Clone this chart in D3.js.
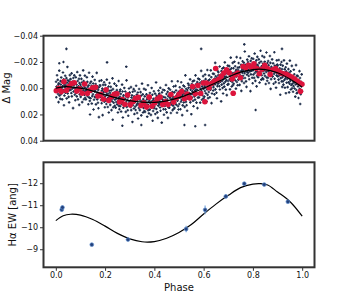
<!DOCTYPE html>
<html><head><meta charset="utf-8">
<script src="https://cdn.jsdelivr.net/npm/d3@7"></script>
<style>body{margin:0;background:#fff}svg{display:block}text{font-family:"DejaVu Sans",sans-serif}</style>
</head><body><svg id="c" width="350" height="300"></svg>
<script>
// Top panel photometry, one row per 0.02 of phase: [phase*1000, deltaMag*10000]
const photPoints = [
[0,8],[1,-49],[2,69],[3,-12],[4,26],[5,-99],[6,0],[8,-64],[9,44],[10,-26],[11,106],[12,-37],[13,14],[14,-134],[15,56],[17,-7],[18,81],[19,-54],[14,-190],
[20,-28],[21,45],[22,-82],[24,-3],[25,-50],[26,85],[27,-15],[28,28],[29,-120],[30,14],[32,-68],[33,130],[34,-24],[35,56],[36,-38],[37,-8],[38,-95],[39,34],[31,-200],
[40,23],[41,-22],[43,-77],[44,78],[45,-42],[46,3],[47,-162],[48,40],[49,-60],[51,-12],[52,66],[53,-32],[54,108],[55,-50],[56,15],[57,-100],[58,-3],[59,-68],[43,-300],
[60,-70],[61,12],[62,-10],[63,37],[64,-113],[65,62],[66,-34],[68,2],[69,-50],[70,152],[71,-78],[72,25],[73,-23],[74,-3],[75,-98],[77,50],[78,-43],[79,92],
[80,5],[81,-83],[82,37],[84,-28],[85,62],[86,-9],[87,-123],[88,25],[89,-55],[90,85],[92,-15],[93,13],[94,-71],[95,127],[96,-39],[97,47],[98,-98],[99,19],
[100,-26],[101,66],[103,-11],[104,-71],[105,29],[106,-44],[107,106],[108,0],[109,40],[111,-136],[112,18],[113,-54],[114,84],[115,-18],[116,50],[117,-4],[118,-96],[119,74],
[120,24],[121,-33],[122,85],[124,4],[125,42],[126,-83],[127,16],[128,-48],[129,60],[130,-10],[132,122],[133,-21],[134,30],[135,-118],[136,72],[137,9],[138,97],[139,-38],[139,200],
[140,4],[141,77],[143,-50],[144,29],[145,-18],[146,117],[147,17],[148,60],[149,-88],[151,46],[152,-36],[153,162],[154,8],[155,88],[156,-6],[157,24],[158,-63],[159,66],
[160,68],[161,23],[162,-32],[163,123],[164,3],[165,48],[166,-117],[168,85],[169,-15],[170,33],[171,111],[172,13],[173,153],[174,-5],[175,60],[177,-55],[178,42],[179,-23],[175,220],
[180,-17],[181,65],[182,43],[184,90],[185,-60],[186,115],[187,19],[188,55],[189,3],[190,205],[192,-25],[193,78],[194,30],[195,50],[196,-45],[197,103],[198,10],[199,145],
[200,63],[201,-25],[203,95],[204,30],[205,120],[206,49],[207,-65],[208,83],[209,3],[211,143],[212,43],[213,71],[214,-13],[215,185],[216,19],[217,105],[218,-40],[219,77],[208,-197],
[220,35],[221,127],[222,50],[223,-10],[224,90],[225,17],[226,167],[228,61],[229,101],[230,-75],[231,79],[232,7],[233,145],[234,43],[235,111],[237,57],[238,-35],[239,135],[231,240],
[240,87],[241,30],[243,148],[244,67],[245,105],[246,-20],[247,79],[248,15],[249,123],[251,53],[252,185],[253,42],[254,93],[255,-55],[256,135],[257,72],[258,160],[259,25],
[260,65],[261,138],[262,11],[263,90],[264,43],[265,178],[266,78],[268,121],[269,-27],[270,107],[271,25],[272,223],[273,69],[274,149],[275,55],[277,85],[278,-2],[279,127],[270,286],
[280,125],[281,80],[282,25],[284,180],[285,60],[286,105],[287,-60],[288,142],[289,42],[290,90],[292,168],[293,70],[294,210],[295,52],[296,117],[297,2],[298,99],[299,34],[286,-164],
[300,35],[301,117],[303,95],[304,142],[305,-8],[306,167],[307,71],[308,107],[309,55],[311,257],[312,27],[313,130],[314,82],[315,102],[316,7],[317,155],[318,62],[319,197],
[320,109],[321,21],[322,141],[323,76],[324,166],[325,95],[326,-19],[328,129],[329,49],[330,189],[331,89],[332,117],[333,33],[334,231],[335,65],[337,151],[338,6],[339,123],
[340,75],[341,167],[342,90],[344,30],[345,130],[346,57],[347,207],[348,101],[349,141],[350,-35],[352,119],[353,47],[354,185],[355,83],[356,151],[357,97],[358,5],[359,175],[347,280],
[360,119],[361,62],[362,180],[363,99],[364,137],[365,12],[366,111],[368,47],[369,155],[370,85],[371,217],[372,74],[373,125],[374,-23],[375,167],[377,104],[378,192],[379,57],
[380,90],[381,163],[382,36],[384,115],[385,68],[386,203],[387,103],[388,146],[389,-2],[390,132],[392,50],[393,248],[394,94],[395,174],[396,80],[397,110],[398,23],[399,152],
[400,141],[401,96],[403,41],[404,196],[405,76],[406,121],[407,-44],[408,158],[409,58],[411,106],[412,184],[413,86],[414,226],[415,68],[416,133],[417,18],[418,115],[419,50],
[420,40],[421,122],[422,100],[423,147],[424,-3],[425,172],[426,76],[428,112],[429,60],[430,262],[431,32],[432,135],[433,87],[434,107],[435,12],[437,160],[438,67],[439,202],
[440,104],[441,16],[442,136],[444,71],[445,161],[446,90],[447,-24],[448,124],[449,44],[450,184],[452,84],[453,112],[454,28],[455,226],[456,60],[457,146],[458,1],[459,118],
[460,57],[461,149],[463,72],[464,12],[465,112],[466,39],[467,189],[468,83],[469,123],[471,-53],[472,101],[473,29],[474,167],[475,65],[476,133],[477,79],[478,-13],[479,157],
[480,89],[481,32],[482,150],[484,69],[485,107],[486,-18],[487,81],[488,17],[489,125],[490,55],[492,187],[493,44],[494,95],[495,-53],[496,137],[497,74],[498,162],[499,27],
[500,47],[501,120],[503,-7],[504,72],[505,25],[506,160],[507,60],[508,103],[509,-45],[511,89],[512,7],[513,205],[514,51],[515,131],[516,37],[517,67],[518,-20],[519,109],
[520,87],[521,42],[522,-13],[523,142],[524,22],[525,67],[526,-98],[528,104],[529,4],[530,52],[531,130],[532,32],[533,172],[534,14],[535,79],[537,-36],[538,61],[539,-4],[522,280],
[540,-24],[541,58],[542,36],[544,83],[545,-67],[546,108],[547,12],[548,48],[549,-4],[550,198],[552,-32],[553,71],[554,23],[555,43],[556,-52],[557,96],[558,3],[559,138],
[560,30],[561,-58],[563,62],[564,-3],[565,87],[566,16],[567,-98],[568,50],[569,-30],[571,110],[572,10],[573,38],[574,-46],[575,152],[576,-14],[577,72],[578,-73],[579,44],[566,290],
[580,-22],[581,70],[582,-7],[583,-67],[584,33],[585,-40],[586,110],[588,4],[589,44],[590,-132],[591,22],[592,-50],[593,88],[594,-14],[595,54],[597,0],[598,-92],[599,78],[590,-300],
[600,3],[601,-54],[603,64],[604,-17],[605,21],[606,-104],[607,-5],[608,-69],[609,39],[611,-31],[612,101],[613,-42],[614,9],[615,-139],[616,51],[617,-12],[618,76],[619,-59],[606,280],
[620,-44],[621,29],[622,-98],[623,-19],[624,-66],[625,69],[626,-31],[628,12],[629,-136],[630,-2],[631,-84],[632,114],[633,-40],[634,40],[635,-54],[637,-24],[638,-111],[639,18],
[640,-8],[641,-53],[642,-108],[644,47],[645,-73],[646,-28],[647,-193],[648,9],[649,-91],[650,-43],[652,35],[653,-63],[654,77],[655,-81],[656,-16],[657,-131],[658,-34],[659,-99],
[660,-122],[661,-40],[663,-62],[664,-15],[665,-165],[666,10],[667,-86],[668,-50],[669,-102],[671,100],[672,-130],[673,-27],[674,-75],[675,-55],[676,-150],[677,-2],[678,-95],[679,40],
[680,-69],[681,-157],[682,-37],[683,-102],[684,-12],[685,-83],[686,-197],[688,-49],[689,-129],[690,11],[691,-89],[692,-61],[693,-145],[694,53],[695,-113],[697,-27],[698,-172],[699,-55],
[700,-123],[701,-31],[702,-108],[704,-168],[705,-68],[706,-141],[707,9],[708,-97],[709,-57],[710,-233],[712,-79],[713,-151],[714,-13],[715,-115],[716,-47],[717,-101],[718,-193],[719,-23],
[720,-95],[721,-152],[722,-34],[723,-115],[724,-77],[725,-202],[726,-103],[728,-167],[729,-59],[730,-129],[731,3],[732,-140],[733,-89],[734,-237],[735,-47],[737,-110],[738,-22],[739,-157],
[740,-138],[741,-65],[742,-192],[744,-113],[745,-160],[746,-25],[747,-125],[748,-82],[749,-230],[750,-96],[752,-178],[753,20],[754,-134],[755,-54],[756,-148],[757,-118],[758,-205],[759,-76],
[760,-95],[761,-140],[763,-195],[764,-40],[765,-160],[766,-115],[767,-280],[768,-78],[769,-178],[771,-130],[772,-52],[773,-150],[774,-10],[775,-168],[776,-103],[777,-218],[778,-121],[779,-186],[765,-334],
[780,-200],[781,-118],[782,-140],[783,-93],[784,-243],[785,-68],[786,-164],[788,-128],[789,-180],[790,22],[791,-208],[792,-105],[793,-153],[794,-133],[795,-228],[797,-80],[798,-173],[799,-38],
[800,-136],[801,-224],[802,-104],[804,-169],[805,-79],[806,-150],[807,-264],[808,-116],[809,-196],[810,-56],[812,-156],[813,-128],[814,-212],[815,-14],[816,-180],[817,-94],[818,-239],[819,-122],[811,166],
[820,-175],[821,-83],[823,-160],[824,-220],[825,-120],[826,-193],[827,-43],[828,-149],[829,-109],[831,-285],[832,-131],[833,-203],[834,-65],[835,-167],[836,-99],[837,-153],[838,-245],[839,-75],
[840,-130],[841,-187],[842,-69],[844,-150],[845,-112],[846,-237],[847,-138],[848,-202],[849,-94],[850,-164],[852,-32],[853,-175],[854,-124],[855,-272],[856,-82],[857,-145],[858,-57],[859,-192],
[860,-153],[861,-80],[862,-207],[863,-128],[864,-175],[865,-40],[866,-140],[868,-97],[869,-245],[870,-111],[871,-193],[872,5],[873,-149],[874,-69],[875,-163],[877,-133],[878,-220],[879,-91],
[880,-89],[881,-134],[882,-189],[884,-34],[885,-154],[886,-109],[887,-274],[888,-72],[889,-172],[890,-124],[892,-46],[893,-144],[894,-4],[895,-162],[896,-97],[897,-212],[898,-115],[899,-180],
[900,-172],[901,-90],[903,-112],[904,-65],[905,-215],[906,-40],[907,-136],[908,-100],[909,-152],[911,50],[912,-180],[913,-77],[914,-125],[915,-105],[916,-200],[917,-52],[918,-145],[919,-10],[918,-300],
[920,-84],[921,-172],[922,-52],[923,-117],[924,-27],[925,-98],[926,-212],[928,-64],[929,-144],[930,-4],[931,-104],[932,-76],[933,-160],[934,38],[935,-128],[937,-42],[938,-187],[939,-70],
[940,-100],[941,-8],[942,-85],[944,-145],[945,-45],[946,-118],[947,32],[948,-74],[949,-34],[950,-210],[952,-56],[953,-128],[954,10],[955,-92],[956,-24],[957,-78],[958,-170],[959,0],
[960,-34],[961,-91],[963,27],[964,-54],[965,-16],[966,-141],[967,-42],[968,-106],[969,2],[971,-68],[972,64],[973,-79],[974,-28],[975,-176],[976,14],[977,-49],[978,39],[979,-96],
[980,-38],[981,35],[982,-92],[983,-13],[984,-60],[985,75],[986,-25],[988,18],[989,-130],[990,4],[991,-78],[992,120],[993,-34],[994,46],[995,-48],[997,-18],[998,-105],[999,24]
];
// Binned photometry: [phase*1000, deltaMag*10000]
const binnedPoints = [
[2,20],[12,0],[22,26],[33,-50],[43,18],[54,-12],[64,-35],[75,-42],[85,21],[96,4],[107,38],[117,-32],[128,40],[139,16],[150,-4],[161,-7],
[171,59],[182,46],[193,82],[204,12],[215,93],[226,65],[237,47],[248,42],[259,105],[269,87],[280,122],[291,52],[302,127],[313,103],[324,77],[335,70],
[346,131],[357,111],[368,142],[379,68],[390,138],[401,113],[412,83],[423,68],[434,124],[445,103],[456,125],[467,48],[478,106],[489,75],[500,47],[511,25],
[522,80],[533,45],[544,75],[555,-13],[566,43],[577,-20],[588,40],[599,-40],[605,103],[611,-40],[622,-3],[633,-37],[644,-55],[649,-150],[660,-65],[671,-90],
[682,-115],[693,-140],[704,-118],[716,-70],[720,39],[727,-100],[738,-115],[749,-80],[760,-165],[771,-155],[782,-175],[793,-160],[804,-185],[815,-150],[826,-110],[837,-145],
[848,-175],[859,-150],[870,-105],[881,-140],[892,-150],[903,-130],[914,-115],[925,-110],[936,-105],[947,-95],[958,-85],[969,-70],[980,-55],[990,-40],[993,24],[999,-30]
];
// Top model curve
const magModelPhase = [0,0.04,0.10,0.15,0.20,0.25,0.30,0.35,0.40,0.45,0.50,0.55,0.60,0.65,0.70,0.75,0.80,0.85,0.90,0.95,1.00];
const magModel = [0,-0.0012,0,0.0022,0.0050,0.0075,0.0094,0.0106,0.0108,0.0097,0.0072,0.0038,0.0000,-0.0042,-0.0085,-0.0122,-0.0142,-0.0142,-0.0118,-0.0070,-0.0008];
// Bottom panel
const ewPhase = [0.024,0.027,0.146,0.293,0.529,0.606,0.690,0.765,0.846,0.942];
const ewValue = [-10.80,-10.90,-9.21,-9.44,-9.92,-10.79,-11.40,-11.98,-11.94,-11.16];
const ewError = [0.10,0.08,0.05,0.05,0.15,0.20,0.10,0.06,0.05,0.08];
const ewModelPhase = [0,0.03,0.06,0.10,0.15,0.20,0.25,0.30,0.35,0.40,0.45,0.50,0.55,0.60,0.65,0.70,0.75,0.80,0.83,0.86,0.90,0.95,1.00];
const ewModel = [-10.30,-10.52,-10.59,-10.55,-10.35,-10.05,-9.72,-9.47,-9.34,-9.35,-9.50,-9.76,-10.12,-10.60,-11.05,-11.45,-11.80,-11.96,-11.98,-11.92,-11.60,-11.17,-10.50];
const magTicks = [-0.04,-0.02,0,0.02,0.04];
const ewTicks = [-12,-11,-10,-9];
const phaseTicks = [0,0.2,0.4,0.6,0.8,1.0];

const svg = d3.select("#c");
const L = 43.5, R = 314.5;
const x = d3.scaleLinear().domain([-0.05,1.05]).range([L,R]);
const yTop = d3.scaleLinear().domain([-0.04,0.04]).range([35.7,140.7]);
const yBot = d3.scaleLinear().domain([-12.95,-8.18]).range([162.3,267.3]);
const minus = s => s.replace(/-/g,"\u2212");
const frameCol = "#333";

function clip(id, y0, y1){
  svg.append("clipPath").attr("id",id).append("rect").attr("x",L).attr("y",y0).attr("width",R-L).attr("height",y1-y0);
}
clip("ct",35.7,140.7); clip("cb",162.3,267.3);

// top panel marks
const gt = svg.append("g").attr("clip-path","url(#ct)");
gt.selectAll("path.d").data(photPoints).join("path")
  .attr("d", d => { const px = x(d[0]/1000), py = yTop(d[1]/10000); return `M${px-1.3},${py}h2.6M${px},${py-1.3}v2.6`; })
  .attr("stroke","#1f2e4b").attr("stroke-width",1.15);
gt.selectAll("circle.r").data(binnedPoints).join("circle")
  .attr("cx", d => x(d[0]/1000)).attr("cy", d => yTop(d[1]/10000)).attr("r",2.8)
  .attr("fill","#dc143c");
gt.append("path").datum(d3.zip(magModelPhase, magModel))
  .attr("d", d3.line().x(d=>x(d[0])).y(d=>yTop(d[1])).curve(d3.curveCatmullRom.alpha(0.5)))
  .attr("fill","none").attr("stroke","#000").attr("stroke-width",1.2);

// bottom panel marks
const gb = svg.append("g").attr("clip-path","url(#cb)");
gb.append("path").datum(d3.zip(ewModelPhase, ewModel))
  .attr("d", d3.line().x(d=>x(d[0])).y(d=>yBot(d[1])).curve(d3.curveCatmullRom.alpha(0.5)))
  .attr("fill","none").attr("stroke","#000").attr("stroke-width",1.2);
const ew = d3.range(ewPhase.length).map(i => ({p:ewPhase[i], v:ewValue[i], e:ewError[i]}));
gb.selectAll("line.e").data(ew).join("line")
  .attr("x1",d=>x(d.p)).attr("x2",d=>x(d.p)).attr("y1",d=>yBot(d.v-d.e)).attr("y2",d=>yBot(d.v+d.e))
  .attr("stroke","#7aa6dc").attr("stroke-width",1.2);
gb.selectAll("circle.p").data(ew).join("circle")
  .attr("cx",d=>x(d.p)).attr("cy",d=>yBot(d.v)).attr("r",1.9)
  .attr("fill","#24407a").attr("stroke","#5f8fd0").attr("stroke-width",0.7);

// axes
function styleAxis(g){
  g.select(".domain").remove();
  g.selectAll(".tick line").attr("stroke",frameCol).attr("stroke-width",1);
  g.selectAll(".tick text").attr("font-size",8).attr("fill","#111").attr("font-family","DejaVu Sans");
}
svg.append("g").attr("transform",`translate(${L},0)`)
  .call(d3.axisLeft(yTop).tickValues(magTicks).tickFormat(d=>minus(d3.format(".2f")(d))).tickSize(3.5).tickPadding(2))
  .call(styleAxis);
svg.append("g").attr("transform",`translate(${L},0)`)
  .call(d3.axisLeft(yBot).tickValues(ewTicks).tickFormat(d=>minus(d3.format("d")(d))).tickSize(3.5).tickPadding(2))
  .call(styleAxis);
svg.append("g").attr("transform",`translate(0,267.3)`)
  .call(d3.axisBottom(x).tickValues(phaseTicks).tickFormat(d3.format(".1f")).tickSize(3.5).tickPadding(2))
  .call(styleAxis);

// frames
[[35.7,140.7],[162.3,267.3]].forEach(([y0,y1])=>{
  svg.append("rect").attr("x",L).attr("y",y0).attr("width",R-L).attr("height",y1-y0)
    .attr("fill","none").attr("stroke",frameCol).attr("stroke-width",2);
});

// labels
svg.append("text").attr("transform","translate(10,88) rotate(-90)").attr("text-anchor","middle")
  .attr("font-size",10).attr("fill","#111").text("Δ Mag");
svg.append("text").attr("transform","translate(16,214.8) rotate(-90)").attr("text-anchor","middle")
  .attr("font-size",10).attr("fill","#111").text("Hα EW [ang]");
svg.append("text").attr("x",(L+R)/2).attr("y",290.5).attr("text-anchor","middle")
  .attr("font-size",10).attr("fill","#111").text("Phase");
</script></body></html>
